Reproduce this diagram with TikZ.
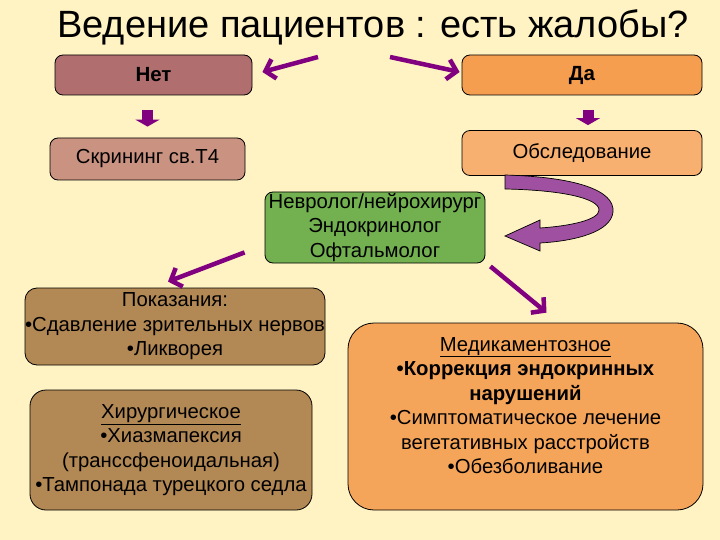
\documentclass[tikz,border=0pt]{standalone}
\usepackage{fontspec}
\setmainfont{Liberation Sans}
\usepackage{tikz}
\usetikzlibrary{arrows.meta}

\definecolor{bgcol}{RGB}{255,242,195}
\definecolor{netcol}{RGB}{176,110,110}
\definecolor{skrcol}{RGB}{202,146,128}
\definecolor{dacol}{RGB}{245,158,80}
\definecolor{obscol}{RGB}{248,176,112}
\definecolor{grcol}{RGB}{114,176,80}
\definecolor{brcol}{RGB}{178,136,84}
\definecolor{medcol}{RGB}{245,165,90}
\definecolor{arrcol}{RGB}{128,0,128}
\definecolor{curvcol}{RGB}{160,80,160}

\begin{document}
\begin{tikzpicture}[
				x=1pt, y=-1pt,
				box style/.style={
					draw=black,
					line width=0.8pt,
					rounded corners=8pt,
					align=center,
					inner sep=0pt,
					font=\fontsize{20.3}{24.5}\selectfont
				},
				purp arrow/.style={
					draw=arrcol,
					line width=4.5pt,
					-{Straight Barb[length=9pt,width=20pt]}
				},
				block arrow/.style={
					draw=arrcol,
					line width=11pt,
					-{Triangle[length=7pt,width=24pt]}
				}
				]
				
				% background
				\fill[bgcol] (0,0) rectangle (720,540);
				
				\node (title) at (373,27)
				{\fontsize{38}{42}\selectfont Ведение пациентов : есть жалобы?};
				
				\node[box style, fill=netcol, minimum width=197pt, minimum height=40pt] (net) at (153.5,75)
				{\fontsize{20.5}{24}\selectfont\textbf{Нет}};
				
				\node[box style, fill=dacol, minimum width=240pt, minimum height=40pt] (da) at (582,75)
				{\fontsize{20.5}{24}\selectfont\textbf{Да}};
				
				\node[box style, fill=skrcol, minimum width=195pt, minimum height=42pt] (skr) at (147.5,159)
				{Скрининг св.Т4};
				
				\node[box style, fill=obscol, minimum width=240pt, minimum height=45pt] (obs) at (582,153)
				{Обследование};
				
				\node[box style, fill=grcol, minimum width=220pt, minimum height=71pt] (spec) at (375,227.5)
				{Невролог/нейрохирург\\Эндокринолог\\Офтальмолог};
				
				\node[box style, fill=brcol, rounded corners=12pt, minimum width=300pt, minimum height=77pt] (pok) at (175,326.5)
				{Показания:\\•Сдавление зрительных нервов\\•Ликворея};
				
				\node[box style, fill=brcol, rounded corners=16pt, minimum width=282pt, minimum height=120pt] (hir) at (171,450)
				{\underline{Хирургическое}\\•Хиазмапексия\\(транссфеноидальная)\\•Тампонада турецкого седла};
				
				\node[box style, fill=medcol, rounded corners=26pt, minimum width=355pt, minimum height=187pt] (med) at (525.5,416.5) {};
				\node[box style, draw=none] (medtext) at ([yshift=11pt]med.center)
				{\underline{Медикаментозное}\\\textbf{•Коррекция эндокринных}\\\textbf{нарушений}\\•Симптоматическое лечение\\вегетативных расстройств\\•Обезболивание};
				
				\coordinate (t1) at (318,57);
				\coordinate (t2) at (390,57);
				
				\draw[purp arrow] (t1) -- ([xshift=10pt,yshift=3pt]net.east);
				\draw[purp arrow] (t2) -- ([xshift=-2pt,yshift=3pt]da.west);
				
				\draw[block arrow] ([yshift=-15pt]net.south -| skr.north) -- ([yshift=11pt]skr.north);
				\draw[block arrow] ([xshift=6pt,yshift=-15pt]da.south) -- ([xshift=6pt,yshift=5pt]obs.north);
				
				% curved ribbon arrow
				\filldraw[fill=curvcol, draw=black, line width=0.7pt]
				(505,175) .. controls (575,177) and (615,190) .. (613,212)
				.. controls (611,232) and (575,241) .. (540,243) -- (540,251) -- (505,236) -- (540,220) -- (540,228)
				.. controls (570,226) and (599,220) .. (599,210)
				.. controls (599,198) and (560,190) .. (505,189) -- cycle;
				
				\draw[purp arrow] ([xshift=-20pt,yshift=11pt]spec.south west) -- ([xshift=-7pt,yshift=6pt]pok.north);
				\draw[purp arrow] ([xshift=5pt,yshift=-3pt]spec.south east) -- ([xshift=21pt,yshift=10pt]med.north);
				
			\end{tikzpicture}
\end{document}
